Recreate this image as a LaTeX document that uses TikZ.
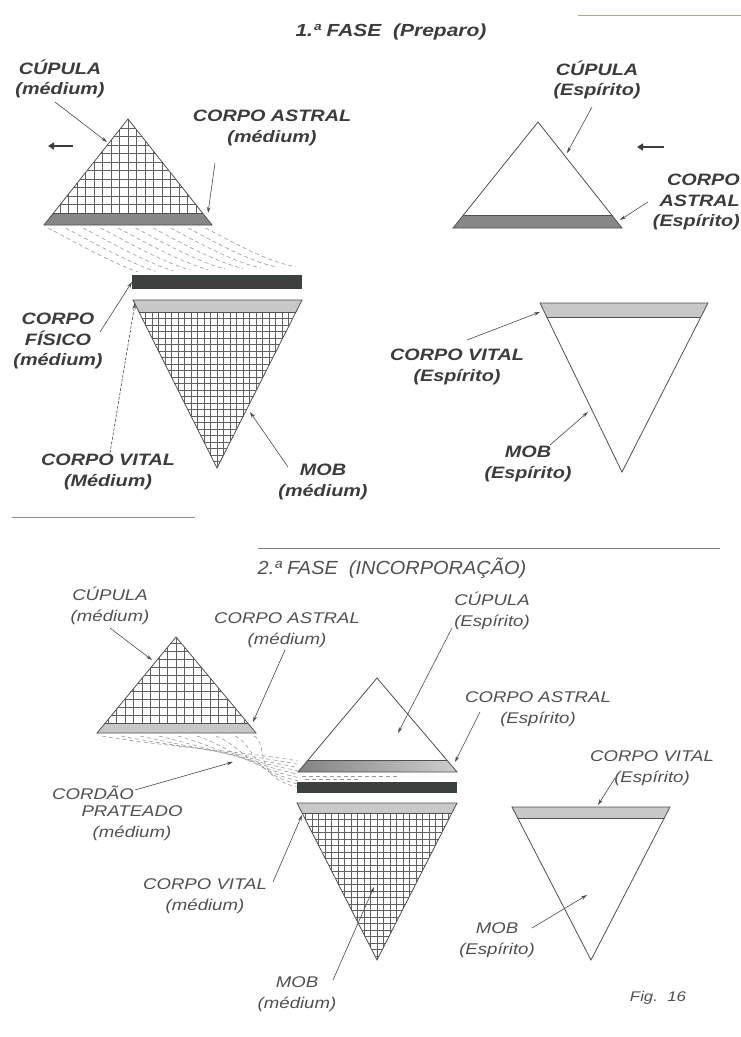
\documentclass[tikz,border=0pt]{standalone}
\usepackage{fontspec}
\setmainfont{Liberation Sans}
\newfontfamily\labfont[FakeStretch=1.2]{Liberation Sans}
\newfontfamily\titfont[FakeStretch=1.05]{Liberation Sans}
\usetikzlibrary{arrows.meta}
\definecolor{txtdark}{HTML}{3C3C3C}
\definecolor{txtgray}{HTML}{505050}
\definecolor{linegray}{HTML}{4A4A4A}
\definecolor{edgegray}{HTML}{505050}
\definecolor{gridgray}{HTML}{606060}
\definecolor{cordgray}{HTML}{9A9A9A}
\definecolor{astraldark}{HTML}{878787}
\definecolor{vitallight}{HTML}{C8C8C8}
\definecolor{physdark}{HTML}{3C4140}
\definecolor{pageorange}{HTML}{C8A078}
\definecolor{pageblue}{HTML}{7D8CAF}
\tikzset{
  lbltop/.style={font={\labfont\bfseries\itshape\fontsize{16.5}{20.5}\selectfont}, text=txtdark, align=center, inner sep=0pt},
  lblbot/.style={font={\labfont\itshape\fontsize{15.5}{21.5}\selectfont}, text=txtgray, align=center, inner sep=0pt},
  leader/.style={draw=linegray, line width=0.6pt, -{Stealth[length=6pt,width=3.5pt]}},
  tri/.style={draw=edgegray, line width=0.8pt},
  gridln/.style={draw=gridgray, line width=0.5pt},
  cord/.style={draw=cordgray, line width=0.6pt, dash pattern=on 4pt off 3pt},
  bigarrow/.style={draw=txtdark, line width=2.2pt, -{Triangle[length=6pt,width=7pt]}},
}
\begin{document}
\begin{tikzpicture}[x=1pt,y=-1pt]
\useasboundingbox[fill=white] (0,0) rectangle (741,1037);

% page lines
\draw[draw=pageorange, line width=1pt] (578,15) -- (741,15);
\draw[draw=pageblue, line width=1pt] (12,517) -- (195,517);
\draw[draw=gray, line width=0.8pt] (258,548) -- (720,548);

% titles
\node[font={\labfont\bfseries\itshape\fontsize{17.5}{20}\selectfont}, text=txtdark, inner sep=0pt] (tit1) at (391,32) {1.ª FASE\ \ (Preparo)};
\node[font={\titfont\itshape\fontsize{19}{22}\selectfont}, text=txtgray, inner sep=0pt] (tit2) at (392,568) {2.ª FASE\ \ (INCORPORAÇÃO)};

%================ TOP LEFT =================
\coordinate (tlA) at (128,119); \coordinate (tlB) at (44,225); \coordinate (tlC) at (212,225);
\begin{scope}
 \clip (tlA) -- (tlB) -- (tlC) -- cycle;
 \foreach \i in {-11,...,11} \draw[gridln] ({128+\i*8.5},110) -- ({128+\i*8.5},215);
 \foreach \j in {1,...,12} \draw[gridln] (30,{213-\j*8.5}) -- (230,{213-\j*8.5});
 \fill[astraldark] (30,213) rectangle (230,226);
 \draw[tri] (30,213) -- (230,213);
\end{scope}
\draw[tri] (tlA) -- (tlB) -- (tlC) -- cycle;

% cord top
\foreach \i in {0,...,9} {
  \draw[cord] ({48+\i*17.5},228) .. controls ({75+\i*17.5},242) and ({110+\i*17.5},262) .. ({138+\i*17.5},{272-\i*0.6});
}

% physical bar
\fill[physdark] (132,275) rectangle (302,289);

\coordinate (tvA) at (217,468); \coordinate (tvB) at (133,300); \coordinate (tvC) at (302,300);
\begin{scope}
 \clip (tvA) -- (tvB) -- (tvC) -- cycle;
 \foreach \i in {-14,...,14} \draw[gridln] ({217+\i*6.5},310) -- ({217+\i*6.5},470);
 \foreach \j in {1,...,25} \draw[gridln] (120,{312+\j*6.5}) -- (310,{312+\j*6.5});
 \fill[vitallight] (120,299) rectangle (310,312);
 \draw[tri] (120,312) -- (310,312);
\end{scope}
\draw[tri] (tvA) -- (tvB) -- (tvC) -- cycle;

% labels top-left
\node[lbltop] (l1) at (60,79) {CÚPULA\\(médium)};
\node[lbltop] (l2) at (272,128) {CORPO ASTRAL\\(médium)};
\node[lbltop] (l3) at (58,341) {CORPO\\FÍSICO\\(médium)};
\node[lbltop] (l4) at (108,472) {CORPO VITAL\\(Médium)};
\node[lbltop] (l5) at (323,482) {MOB\\(médium)};

\coordinate (a1s) at (55,102); \coordinate (a1e) at (107,142);
\coordinate (a2s) at (215,163); \coordinate (a2e) at (208,213);
\coordinate (a3s) at (100,332); \coordinate (a3e) at (132,282);
\coordinate (a4s) at (110,453); \coordinate (a4e) at (135,303);
\coordinate (a5s) at (288,467); \coordinate (a5e) at (250,412);
\draw[leader] (a1s) -- (a1e);
\draw[leader] (a2s) -- (a2e);
\draw[leader] (a3s) -- (a3e);
\draw[leader, dash pattern=on 3pt off 1.5pt] (a4s) -- (a4e);
\draw[leader] (a5s) -- (a5e);

\coordinate (m1s) at (73,146); \coordinate (m1e) at (48,146);
\draw[bigarrow] (m1s) -- (m1e);

%================ TOP RIGHT =================
\coordinate (trA) at (538,122); \coordinate (trB) at (453,228); \coordinate (trC) at (622,228);
\begin{scope}
 \clip (trA) -- (trB) -- (trC) -- cycle;
 \fill[astraldark] (440,215) rectangle (640,229);
 \draw[tri] (440,215) -- (640,215);
\end{scope}
\draw[tri] (trA) -- (trB) -- (trC) -- cycle;

\coordinate (rvA) at (622,472); \coordinate (rvB) at (540,303); \coordinate (rvC) at (708,303);
\begin{scope}
 \clip (rvA) -- (rvB) -- (rvC) -- cycle;
 \fill[vitallight] (530,302) rectangle (720,317);
 \draw[tri] (530,317) -- (720,317);
\end{scope}
\draw[tri] (rvA) -- (rvB) -- (rvC) -- cycle;

\node[lbltop] (r1) at (597,80) {CÚPULA\\(Espírito)};
\node[lbltop, align=right, anchor=east] (r2) at (740,202) {CORPO\\ASTRAL\\(Espírito)};
\node[lbltop] (r3) at (457,367) {CORPO VITAL\\(Espírito)};
\node[lbltop] (r4) at (528,464) {MOB\\(Espírito)};

\coordinate (b1s) at (592,107); \coordinate (b1e) at (567,153);
\coordinate (b2s) at (648,202); \coordinate (b2e) at (620,220);
\coordinate (b3s) at (467,340); \coordinate (b3e) at (540,312);
\coordinate (b4s) at (550,445); \coordinate (b4e) at (588,412);
\draw[leader] (b1s) -- (b1e);
\draw[leader] (b2s) -- (b2e);
\draw[leader] (b3s) -- (b3e);
\draw[leader] (b4s) -- (b4e);

\coordinate (m2s) at (664,147); \coordinate (m2e) at (637,147);
\draw[bigarrow] (m2s) -- (m2e);

%================ BOTTOM LEFT =================
\coordinate (blA) at (176,637); \coordinate (blB) at (97,733); \coordinate (blC) at (256,733);
\begin{scope}
 \clip (blA) -- (blB) -- (blC) -- cycle;
 \foreach \i in {-10,...,10} \draw[gridln] ({176+\i*8.5},630) -- ({176+\i*8.5},725);
 \foreach \j in {1,...,11} \draw[gridln] (80,{723-\j*8}) -- (270,{723-\j*8});
 \fill[vitallight] (80,723) rectangle (270,734);
 \draw[tri] (80,723) -- (270,723);
\end{scope}
\draw[tri] (blA) -- (blB) -- (blC) -- cycle;

% cord bottom
\foreach \i in {0,...,8} {
  \draw[cord] ({102+\i*19},736) .. controls ({150+\i*15},745) and ({250},{752+\i*3}) .. (298,{761+\i*3.3});
}
\draw[cord] (302,776) -- (400,776);
\draw[cord] (305,779.5) -- (360,779.5);

%================ BOTTOM MIDDLE =================
\coordinate (bmA) at (377,678); \coordinate (bmB) at (298,772); \coordinate (bmC) at (457,772);
\begin{scope}
 \clip (bmA) -- (bmB) -- (bmC) -- cycle;
 \shade[left color=black!50, right color=black!18] (290,760) rectangle (465,773);
 \draw[tri] (290,760) -- (465,760);
\end{scope}
\draw[tri] (bmA) -- (bmB) -- (bmC) -- cycle;

\fill[physdark] (297,782) rectangle (457,793);

\coordinate (bvA) at (377,960); \coordinate (bvB) at (297,803); \coordinate (bvC) at (457,803);
\begin{scope}
 \clip (bvA) -- (bvB) -- (bvC) -- cycle;
 \foreach \i in {-13,...,13} \draw[gridln] ({377+\i*6.5},810) -- ({377+\i*6.5},962);
 \foreach \j in {1,...,24} \draw[gridln] (290,{813+\j*6.5}) -- (465,{813+\j*6.5});
 \fill[vitallight] (290,802) rectangle (465,813);
 \draw[tri] (290,813) -- (465,813);
\end{scope}
\draw[tri] (bvA) -- (bvB) -- (bvC) -- cycle;

%================ BOTTOM RIGHT =================
\coordinate (brA) at (591,960); \coordinate (brB) at (512,807); \coordinate (brC) at (670,807);
\begin{scope}
 \clip (brA) -- (brB) -- (brC) -- cycle;
 \fill[vitallight] (505,806) rectangle (680,818);
 \draw[tri] (505,818) -- (680,818);
\end{scope}
\draw[tri] (brA) -- (brB) -- (brC) -- cycle;

% labels bottom
\node[lblbot] (k1) at (110,606) {CÚPULA\\(médium)};
\node[lblbot] (k2) at (287,630) {CORPO ASTRAL\\(médium)};
\node[lblbot] (k3) at (93,793) {CORDÃO};
\node[lblbot] (k4) at (132,823) {PRATEADO\\(médium)};
\node[lblbot] (k5) at (205,896) {CORPO VITAL\\(médium)};
\node[lblbot] (k6) at (297,994) {MOB\\(médium)};
\node[lblbot] (k7) at (492,611) {CÚPULA\\(Espírito)};
\node[lblbot] (k8) at (538,709) {CORPO ASTRAL\\(Espírito)};
\node[lblbot] (k9) at (652,768) {CORPO VITAL\\(Espírito)};
\node[lblbot] (k10) at (497,940) {MOB\\(Espírito)};
\node[font={\labfont\itshape\fontsize{14}{16}\selectfont}, text=txtgray, inner sep=0pt] (fig) at (658,998) {Fig.\ \ 16};

\coordinate (c1s) at (110,628); \coordinate (c1e) at (152,660);
\coordinate (c2s) at (285,650); \coordinate (c2e) at (253,722);
\coordinate (c3s) at (135,790); \coordinate (c3e) at (233,762);
\coordinate (c4s) at (273,882); \coordinate (c4e) at (302,815);
\coordinate (c5s) at (333,980); \coordinate (c5e) at (374,887);
\coordinate (c6s) at (452,628); \coordinate (c6e) at (398,733);
\coordinate (c7s) at (480,712); \coordinate (c7e) at (455,762);
\coordinate (c8s) at (615,778); \coordinate (c8e) at (598,805);
\coordinate (c9s) at (532,928); \coordinate (c9e) at (587,895);
\draw[leader] (c1s) -- (c1e);
\draw[leader] (c2s) -- (c2e);
\draw[leader] (c3s) -- (c3e);
\draw[leader] (c4s) -- (c4e);
\draw[leader] (c5s) -- (c5e);
\draw[leader] (c6s) -- (c6e);
\draw[leader] (c7s) -- (c7e);
\draw[leader] (c8s) -- (c8e);
\draw[leader] (c9s) -- (c9e);
\end{tikzpicture}
\end{document}
